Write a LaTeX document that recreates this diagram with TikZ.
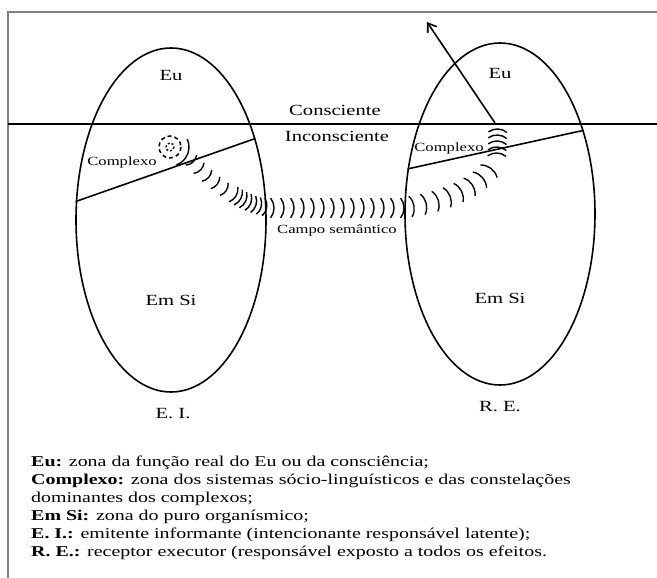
\documentclass[tikz,border=0pt]{standalone}
\usepackage{fontspec}
\setmainfont[FakeStretch=1.33]{Liberation Serif}
\usetikzlibrary{shapes.geometric,arrows.meta,decorations.markings}

\tikzset{
  zone/.style={ellipse, draw, line width=1.6pt, inner sep=0pt},
  bigtext/.style={font=\fontsize{15.5}{18}\selectfont},
  smalltext/.style={font=\fontsize{12.5}{14}\selectfont},
  legendtext/.style={font=\fontsize{15}{18}\selectfont},
  wavemarks/.style 2 args={postaction={decorate}, decoration={markings,
      mark=between positions 0 and 1 step #1 with {\draw[line width=1.4pt] ({-#2*(1-cos(38))*1pt},{-#2*sin(38)*1pt}) arc[start angle=-38,end angle=38,radius={#2*1pt}];}}},
}

\begin{document}
\begin{tikzpicture}[x=1pt,y=-1pt]
	\useasboundingbox (0,0) rectangle (657,578);
	
	% Rahmen (nur oben und links sichtbar)
	\draw[gray, line width=1.5pt] (8,578) -- (8,12) -- (657,12);
	
	% die beiden Zonen
	\node[zone, minimum width=190pt, minimum height=344pt] (EI) at (171,220) {};
	\node[zone, minimum width=190pt, minimum height=342pt] (RE) at (500,214) {};
	
	% Grenze Consciente / Inconsciente
	\coordinate (limL) at (8,124);
	\coordinate (limR) at (657,124);
	\draw[line width=1.6pt] (limL) -- (limR);
	\node[bigtext] (consc) at (335,110) {Consciente};
	\node[bigtext] (inconsc) at (337,136) {Inconsciente};
	
	% Complexo-Grenzen
	\draw[line width=1.6pt] (EI.169) -- (EI.44);
	\draw[line width=1.6pt] (RE.154) -- (RE.45);
	
	% Beschriftungen
	\node[bigtext] (euEI) at (171,76) {Eu};
	\node[bigtext] (euRE) at (500,74) {Eu};
	\node[smalltext] (cxEI) at (122,162) {Complexo};
	\node[smalltext] (cxRE) at (449,148) {Complexo};
	\node[bigtext] (siEI) at (171,300) {Em Si};
	\node[bigtext] (siRE) at (500,298) {Em Si};
	\node[bigtext] (nameEI) at (173,414) {E. I.};
	\node[bigtext] (nameRE) at (500,407) {R. E.};
	\node[smalltext] (campo) at (337,230) {Campo semântico};
	
	% Kern des Komplexes links
	\coordinate (core) at (170,147);
	\draw[dash pattern=on 4pt off 3pt, line width=1.5pt] (core) circle (11);
	\draw[dash pattern=on 2pt off 2pt, line width=1.4pt] (core) circle (4);
	\draw[line width=1.4pt] (core) ++(-25:19) arc[start angle=-25, end angle=70, radius=19];
	
	% Wellen des semantischen Feldes
	\path[wavemarks={11pt}{12}] (193,162) .. controls (205,175) and (218,186) .. (232,194);
	\path[wavemarks={5.5pt}{14}] (236,196) .. controls (246,202) and (256,206) .. (268,208);
	\path[wavemarks={10pt}{16}] (274,208) -- (404,208);
	\path[wavemarks={12.5pt}{17}] (414,206) .. controls (445,201) and (484,186) .. (496,160);
	\path[wavemarks={6pt}{15}] (497,153) -- (498,125);
	
	% Pfeil nach oben
	\coordinate (arrowbase) at (495,123);
	\coordinate (arrowtip) at (427,22);
	\draw[-{Straight Barb[length=8pt,width=11pt]}, line width=1.6pt] (arrowbase) -- (arrowtip);
	
	% Legende
	\node[legendtext, anchor=north west, align=left, inner sep=0pt] (legend) at (31,455.5)
	{\textbf{Eu:} zona da função real do Eu ou da consciência;\\
	 \textbf{Complexo:} zona dos sistemas sócio-linguísticos e das constelações\\
	 dominantes dos complexos;\\
	 \textbf{Em Si:} zona do puro organísmico;\\
	 \textbf{E. I.:} emitente informante (intencionante responsável latente);\\
	 \textbf{R. E.:} receptor executor (responsável exposto a todos os efeitos.};
\end{tikzpicture}
\end{document}
